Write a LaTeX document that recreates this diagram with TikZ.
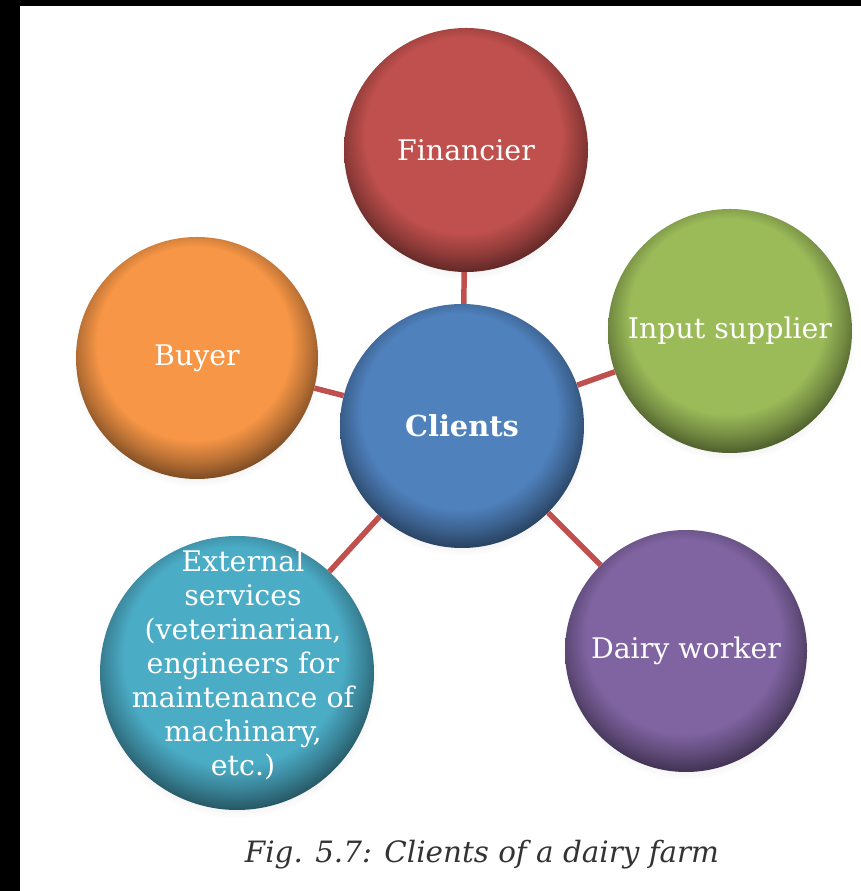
\documentclass[tikz,border=0pt]{standalone}
\usepackage{fontspec}
\setmainfont{DejaVu Serif}
\usetikzlibrary{shadows}

\definecolor{finRed}{HTML}{C0504D}
\definecolor{inpGreen}{HTML}{9BBB59}
\definecolor{buyOrange}{HTML}{F79646}
\definecolor{cliBlue}{HTML}{4F81BD}
\definecolor{daiPurple}{HTML}{8064A2}
\definecolor{extTeal}{HTML}{4BACC6}
\definecolor{linkRed}{HTML}{C0504D}
\definecolor{capGray}{HTML}{333333}

% bevelled disc: flat face, rim darkening towards the lower edge
\pgfdeclareradialshading[basecol,rimcol]{bevel}{\pgfpoint{-1bp}{5bp}}{%
  color(0bp)=(basecol); color(20bp)=(basecol);
  color(24bp)=(rimcol!45!basecol); color(28bp)=(rimcol); color(50bp)=(rimcol)}

\tikzset{
  ball/.style={/utils/exec={\colorlet{basecol}{#1}\colorlet{rimcol}{#1!45!black}},
    circle, inner sep=0pt, shading=bevel, text=white,
    font=\fontsize{28.5}{34}\selectfont,
    circular drop shadow={shadow xshift=0pt, shadow yshift=-4pt, shadow scale=1.03, opacity=0.18}},
  link/.style={draw=linkRed, line width=5.5pt},
  lbl/.style={text=white, align=center},
}

\begin{document}
\begin{tikzpicture}[x=1bp, y=1bp]
  \useasboundingbox (0,0) rectangle (861,891);
  \fill[white] (0,0) rectangle (861,891);
  % dark edges of the page
  \fill[black] (0,0) rectangle (20,891);
  \fill[black] (0,885) rectangle (861,891);

  \node[ball=cliBlue, minimum size=244bp] (cli) at (462,465)
    {\fontsize{29}{34}\selectfont\bfseries Clients};
  \node[ball=finRed, minimum size=244bp] (fin) at (466,741) {Financier};
  \node[ball=inpGreen, minimum size=244bp] (inp) at (730,560) {Input supplier};
  \node[ball=buyOrange, minimum size=242bp] (buy) at (197,533) {Buyer};
  \node[ball=daiPurple, minimum size=242bp] (dai) at (686,240) {Dairy worker};
  \node[ball=extTeal, minimum size=274bp] (ext) at (237,218) {};
  \node[lbl, font=\fontsize{28.5}{34}\selectfont] (extText) at (243,226)
    {External\\services\\(veterinarian,\\engineers for\\maintenance of\\machinary,\\etc.)};

  \draw[link] (cli) -- (fin);
  \draw[link] (cli) -- (inp);
  \draw[link] (cli) -- (buy);
  \draw[link] (cli) -- (dai);
  \draw[link] (cli) -- (ext);

  \node[text=capGray, font=\fontsize{29.5}{34}\selectfont\itshape, anchor=base] (cap)
    at (482,28) {Fig. 5.7: Clients of a dairy farm};
\end{tikzpicture}
\end{document}
